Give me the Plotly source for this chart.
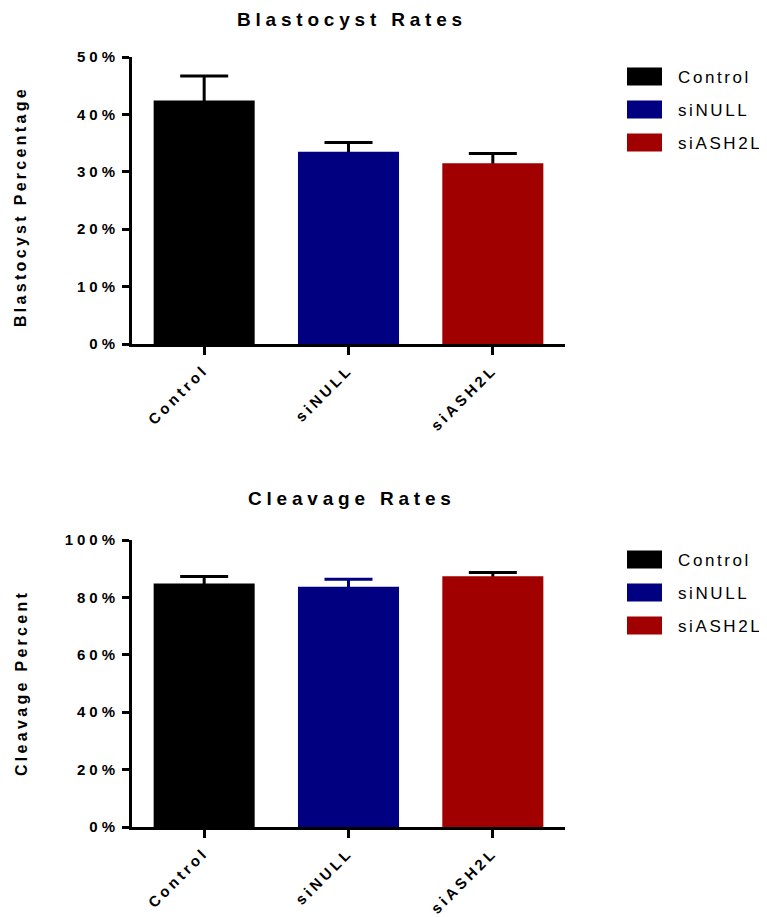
import plotly.graph_objects as go

# ---- data ----
categories = ["Control", "siNULL", "siASH2L"]
blast_values = [42.4, 33.5, 31.5]
blast_err_up = [4.3, 1.6, 1.7]
cleav_values = [84.8, 83.7, 87.4]
cleav_err_up = [2.5, 2.6, 1.3]
blast_ticks = [0, 10, 20, 30, 40, 50]
cleav_ticks = [0, 20, 40, 60, 80, 100]

bar_colors = ["#000000", "#000080", "#a00000"]
blast_err_colors = ["#000000", "#000000", "#000000"]
cleav_err_colors = ["#000000", "#000080", "#000000"]

FONT = "Liberation Sans, Arial, sans-serif"


def sp(text, px):
    return '<span style="letter-spacing:%spx">%s</span>' % (px, text)


OFF = 8  # page body margin
W, H = 767 - OFF, 917 - OFF
ML, MT = 132 - OFF, 57 - OFF
MR = W - (565 - OFF)
MB = H - (827 - OFF)
PW = W - ML - MR
PH = H - MT - MB


def px_x(x):
    return (x - OFF - ML) / PW


def px_y(y):
    return (H - MB - (y - OFF)) / PH


fig = go.Figure()

panels = [
    ("x", "y", blast_values, blast_err_up, blast_err_colors, 1.0),
    ("x2", "y2", cleav_values, cleav_err_up, cleav_err_colors, 2.0),
]
for xa, ya, vals, errs, ecols, hide in panels:
    for i, cat in enumerate(categories):
        # error bar (drawn first; lower part hidden beneath the bar)
        fig.add_trace(go.Bar(
            x=[cat], y=[vals[i]], xaxis=xa, yaxis=ya,
            marker=dict(color="rgba(0,0,0,0)", line=dict(width=0)),
            error_y=dict(type="data", symmetric=False, array=[errs[i]],
                         arrayminus=[hide], color=ecols[i], thickness=3, width=24),
            showlegend=False, hoverinfo="skip",
        ))
        fig.add_trace(go.Bar(
            x=[cat], y=[vals[i]], xaxis=xa, yaxis=ya, name=cat,
            marker=dict(color=bar_colors[i], line=dict(width=0)),
            showlegend=False,
        ))

axis_common = dict(showline=True, linecolor="black", linewidth=3, ticks="outside",
                   tickcolor="black", showgrid=False, zeroline=False, automargin=False)
tick_font = dict(family=FONT, size=15, color="black", weight="bold")

top_dom = [1 - (344 - 57) / PH, 1]
bot_dom = [0, 1 - (540 - 57) / PH]

xcommon = dict(axis_common, domain=[0, 1], range=[-0.5, 2.5], type="category",
               tickmode="array", tickvals=categories,
               ticktext=[sp(c, 3.5) for c in categories],
               tickangle=-45, ticklen=8, tickwidth=3, tickfont=tick_font)

fig.update_layout(
    width=W, height=H, plot_bgcolor="white", paper_bgcolor="white",
    margin=dict(l=ML, r=MR, t=MT, b=MB, autoexpand=False),
    barmode="overlay", bargap=0.3, showlegend=False,
    xaxis=dict(xcommon, anchor="y"),
    yaxis=dict(axis_common, domain=top_dom, anchor="x", range=[0, 50],
               tickmode="array", tickvals=blast_ticks, tickfont=tick_font,
               ticktext=[sp(f"{v}%", 4) for v in blast_ticks], ticklen=7, tickwidth=3),
    xaxis2=dict(xcommon, anchor="y2"),
    yaxis2=dict(axis_common, domain=bot_dom, anchor="x2", range=[0, 100],
                tickmode="array", tickvals=cleav_ticks, tickfont=tick_font,
                ticktext=[sp(f"{v}%", 4) for v in cleav_ticks], ticklen=7, tickwidth=3),
)

# titles (top edge of text box in reference pixels)
titles = [("Blastocyst Rates", 8), ("Cleavage Rates", 487)]
for t, ypx in titles:
    fig.add_annotation(text=sp(t, 4.8), xref="paper", yref="paper", x=px_x(352), y=px_y(ypx),
                       showarrow=False, xanchor="center", yanchor="top", borderpad=0,
                       font=dict(family=FONT, size=19, color="black", weight="bold"))

ytitles = [("Blastocyst Percentage", 207), ("Cleavage Percent", 683)]
for t, ypx in ytitles:
    fig.add_annotation(text=sp(t, 3.3), xref="paper", yref="paper", x=px_x(21), y=px_y(ypx),
                       showarrow=False, xanchor="center", yanchor="middle", textangle=-90,
                       font=dict(family=FONT, size=16, color="black", weight="bold"))

# legends
for y0 in (76.5, 559.5):
    for i, cat in enumerate(categories):
        cy = y0 + 33 * i
        fig.add_shape(type="rect", xref="paper", yref="paper",
                      x0=px_x(627), x1=px_x(662), y0=px_y(cy - 9), y1=px_y(cy + 9),
                      fillcolor=bar_colors[i], line=dict(width=0))
        fig.add_annotation(text=sp(cat, 2.6), xref="paper", yref="paper",
                           x=px_x(676), y=px_y(cy + 1), showarrow=False,
                           xanchor="left", yanchor="middle",
                           font=dict(family=FONT, size=17, color="black"))

fig.write_html("out.html")
